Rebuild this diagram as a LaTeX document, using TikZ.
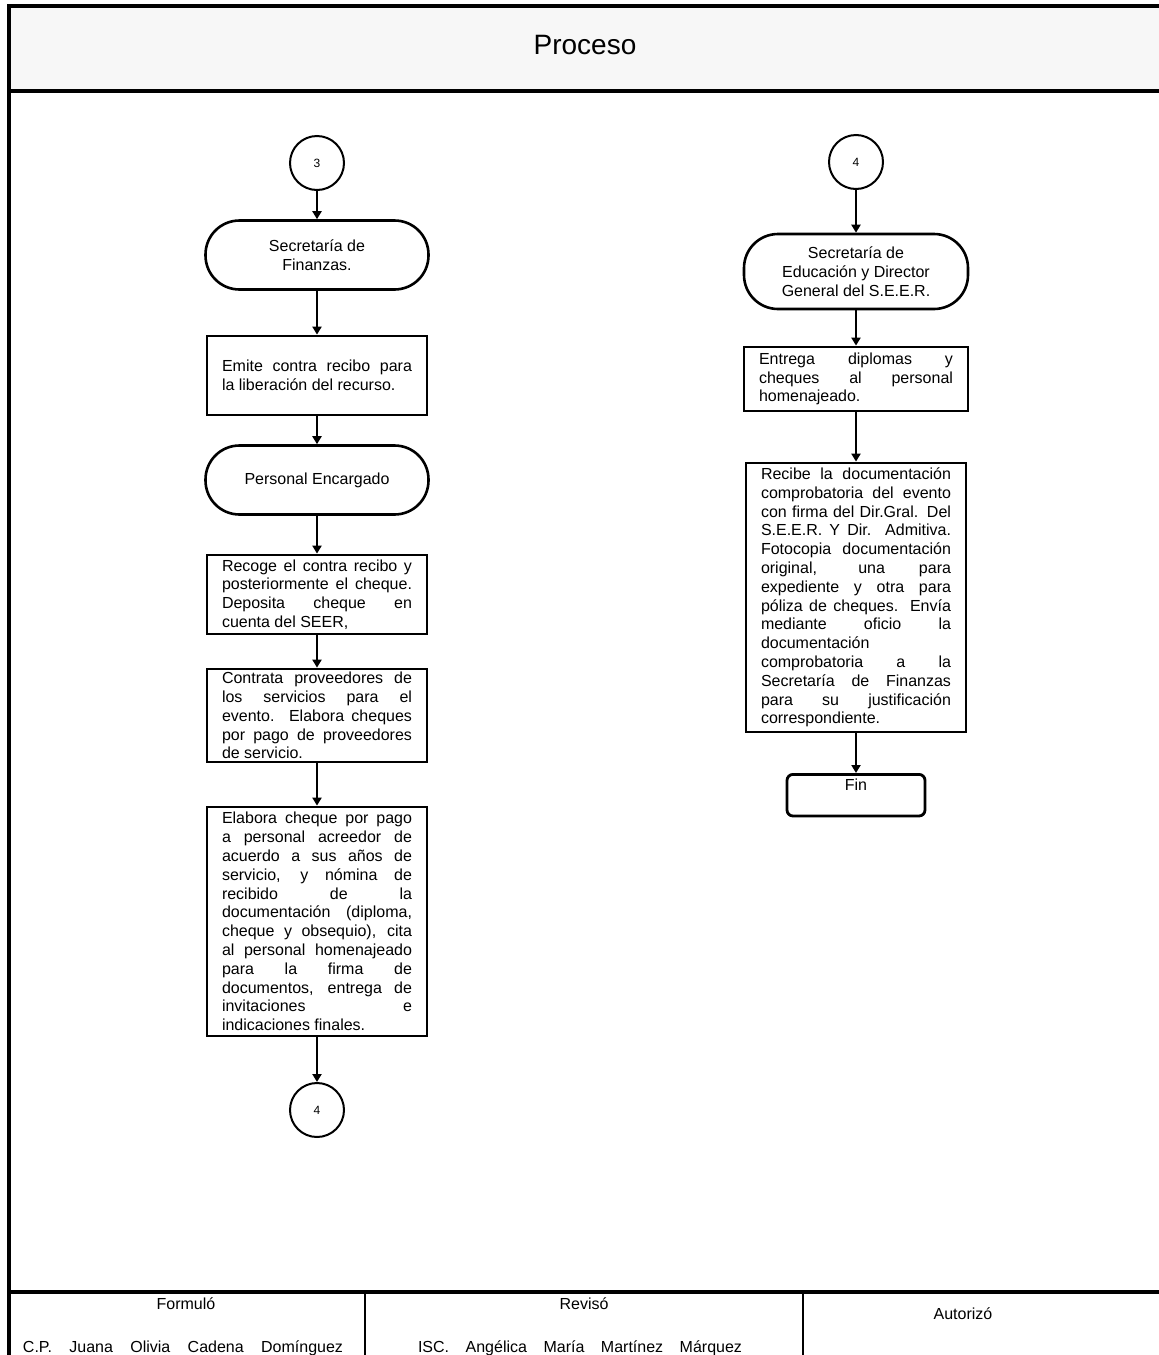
\documentclass[tikz,border=0pt]{standalone}
\usepackage{fontspec}
\setmainfont{Liberation Sans}
\usetikzlibrary{arrows.meta}
\definecolor{bandagris}{RGB}{247,247,247}
\newcommand{\sincorte}{\tolerance=10000\relax\hyphenpenalty=10000\relax}

\begin{document}
\begin{tikzpicture}[
  x=0.5pt, y=-0.5pt,
  every node/.style={font=\fontsize{8}{9.4}\selectfont},
  proc/.style={draw, line width=1.4pt, text width=95pt, inner xsep=7.5pt,
    inner ysep=1.5pt, align=justify,
    font=\fontsize{8}{9.4}\selectfont\sincorte},
  term/.style={draw, line width=1.3pt, rounded corners=17pt,
    minimum width=111.5pt, align=center},
  conec/.style={draw, circle, line width=1pt, minimum size=27pt,
    inner sep=0pt, font=\fontsize{6}{7}\selectfont},
  flecha/.style={-{Triangle[length=4pt,width=4.5pt]}, line width=1.2pt},
]
\useasboundingbox (0,0) rectangle (1158,1355);

%% Marco y banda del titulo
\fill[bandagris] (9,6) rectangle (1162,91);
\draw[line width=1.6pt] (1162,6) -- (9,6) -- (9,1362);
\draw[line width=1.6pt] (9,91) -- (1162,91);
\node[font=\fontsize{14}{16}\selectfont] (titulo) at (585,45) {Proceso};

%% Columna izquierda
\node[conec] (c3) at (317,163) {3};
\node[term, minimum height=34.5pt] (sf) at (317,255)
  {Secretaría de\\Finanzas.};
\node[proc, minimum height=39.5pt] (e1) at (317,375.5)
  {Emite contra recibo para\linebreak la liberación del recurso.};
\node[term, minimum height=34.5pt] (pe) at (317,480) {Personal Encargado};
\node[proc, minimum height=39.5pt] (r2) at (317,594.5)
  {Recoge el contra recibo y\linebreak posteriormente el cheque.\linebreak
   Deposita cheque en\linebreak cuenta del SEER,};
\node[proc, minimum height=44.5pt] (r3) at (317,715.5)
  {Contrata proveedores de\linebreak los servicios para el\linebreak
   evento. Elabora cheques\linebreak por pago de proveedores\linebreak
   de servicio.};
\node[proc, minimum height=114.5pt] (r4) at (317,921.5)
  {Elabora cheque por pago\linebreak a personal acreedor de\linebreak
   acuerdo a sus años de\linebreak servicio, y nómina de\linebreak
   recibido de la\linebreak documentación (diploma,\linebreak
   cheque y obsequio), cita\linebreak al personal homenajeado\linebreak
   para la firma de\linebreak documentos, entrega de\linebreak
   invitaciones e\linebreak indicaciones finales.};
\node[conec] (c4a) at (317,1110) {4};

%% Columna derecha
\node[conec] (c4b) at (856,162) {4};
\node[term, minimum width=112pt, minimum height=37.5pt] (sed) at (856,271.5)
  {Secretaría de\\Educación y Director\\General del S.E.E.R.};
\node[proc, text width=97pt, minimum height=32pt] (r5) at (856,379)
  {Entrega diplomas y\linebreak cheques al personal\linebreak homenajeado.};
\node[proc, minimum height=134.5pt] (r6) at (856,597.5)
  {Recibe la documentación\linebreak comprobatoria del evento\linebreak
   con firma del Dir.Gral. Del\linebreak S.E.E.R. Y Dir. Admitiva.\linebreak
   Fotocopia documentación\linebreak original, una para\linebreak
   expediente y otra para\linebreak póliza de cheques. Envía\linebreak
   mediante oficio la\linebreak documentación\linebreak
   comprobatoria a la\linebreak Secretaría de Finanzas\linebreak
   para su justificación\linebreak correspondiente.};
\node[draw, line width=1.4pt, rounded corners=3pt, minimum width=69pt,
  inner ysep=2pt, text depth=11pt, anchor=north] (fin) at (856,773) {Fin};

%% Conectores
\foreach \a/\b in {c3/sf, sf/e1, e1/pe, pe/r2, r2/r3, r3/r4, r4/c4a,
                   c4b/sed, sed/r5, r5/r6, r6/fin}
  \draw[flecha] (\a) -- (\b);

%% Pie de firmas
\draw[line width=1.6pt] (9,1292) -- (1162,1292);
\draw[line width=1pt] (365,1292) -- (365,1362) (803,1292) -- (803,1362);
\node (formulo) at (186,1304) {Formuló};
\node (revisio) at (584,1304) {Revisó};
\node (autorizo) at (963,1314) {Autorizó};
\node (nomform) at (183,1348)
  {\makebox[160pt][s]{C.P. Juana Olivia Cadena Domínguez}};
\node (nomrev) at (580,1348)
  {\makebox[162pt][s]{ISC. Angélica María Martínez Márquez}};

\end{tikzpicture}
\end{document}
